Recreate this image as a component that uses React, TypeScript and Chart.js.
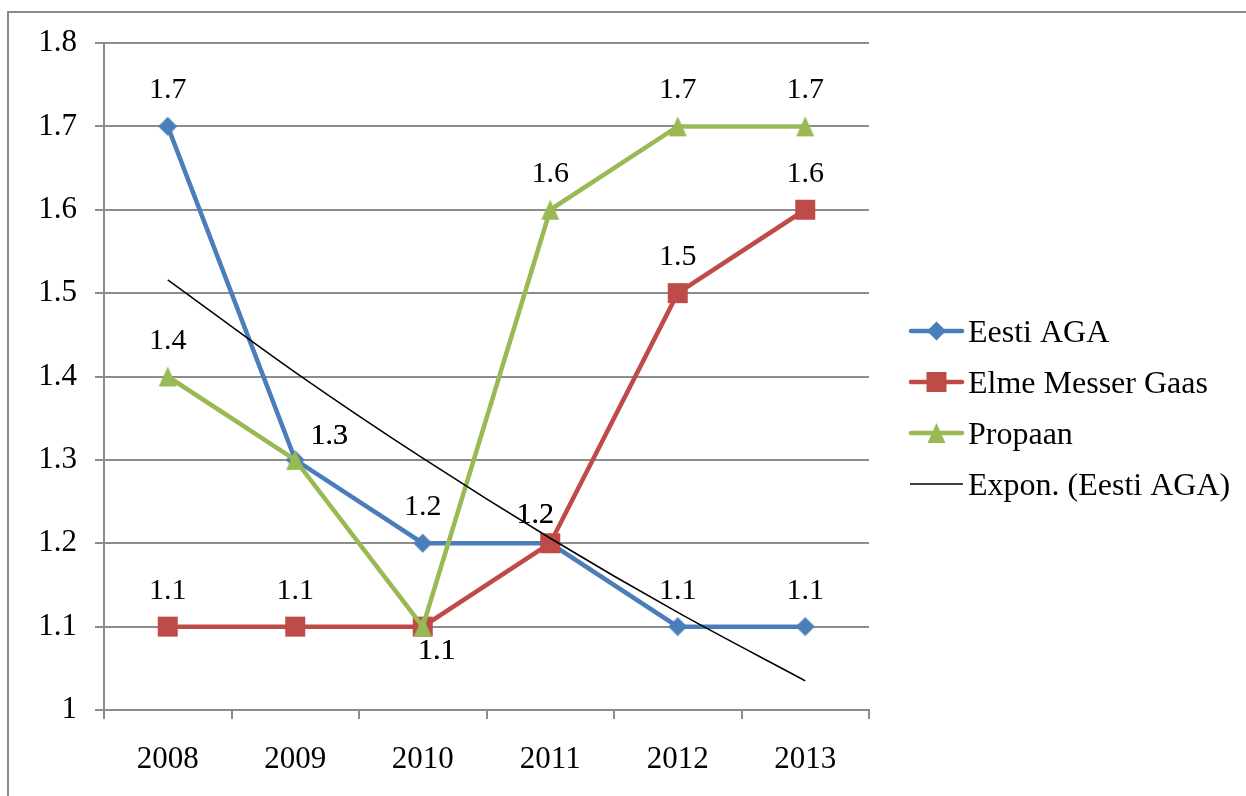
import React, { useEffect, useRef } from 'react';
import { Chart, registerables } from 'chart.js';

Chart.register(...registerables);

const categories = ['2008', '2009', '2010', '2011', '2012', '2013'];
const eestiAga = [1.7, 1.3, 1.2, 1.2, 1.1, 1.1];
const elmeMesserGaas = [1.1, 1.1, 1.1, 1.2, 1.5, 1.6];
const propaan = [1.4, 1.3, 1.1, 1.6, 1.7, 1.7];
const exponEestiAga = [1.516, 1.405, 1.302, 1.206, 1.117, 1.035];
const yTickValues = [1, 1.1, 1.2, 1.3, 1.4, 1.5, 1.6, 1.7, 1.8];
const yTickLabels = ['1', '1.1', '1.2', '1.3', '1.4', '1.5', '1.6', '1.7', '1.8'];
const seriesNames = ['Eesti AGA', 'Elme Messer Gaas', 'Propaan', 'Expon. (Eesti AGA)'];

const BLUE = '#4A7EBB';
const RED = '#BE4B48';
const GREEN = '#98B954';
const GRID = '#8c8c8c';
const FONT_FAMILY = '"Liberation Serif", "Times New Roman", serif';
const TICK_SIZE = 31;
const LABEL_SIZE = 30;
const LEGEND_SIZE = 32;

// label placement relative to the point (dx, baseline dy)
function labelPlacement(ds: number, i: number): [number, number] {
  if ((ds === 0 || ds === 2) && i === 1) return [34, -16];
  if ((ds === 0 || ds === 1) && i === 3) return [-15, -20];
  if ((ds === 1 || ds === 2) && i === 2) return [14, 32];
  return [0, -28];
}

function fmt(v: number) {
  return String(Number(v.toFixed(1)));
}

function markerPath(ctx: CanvasRenderingContext2D, kind: string, x: number, y: number) {
  ctx.beginPath();
  if (kind === 'diamond') {
    ctx.moveTo(x, y - 9.5);
    ctx.lineTo(x + 9.5, y);
    ctx.lineTo(x, y + 9.5);
    ctx.lineTo(x - 9.5, y);
    ctx.closePath();
  } else if (kind === 'square') {
    ctx.rect(x - 10, y - 10, 20, 20);
  } else if (kind === 'triangle') {
    ctx.moveTo(x, y - 10);
    ctx.lineTo(x + 9, y + 10);
    ctx.lineTo(x - 9, y + 10);
    ctx.closePath();
  }
}

function makeMarker(kind: string, color: string) {
  const c = document.createElement('canvas');
  c.width = 22;
  c.height = 22;
  const ctx = c.getContext('2d')!;
  ctx.fillStyle = color;
  markerPath(ctx, kind, 11, 11);
  ctx.fill();
  return c;
}

const dataLabelPlugin = {
  id: 'dataLabels',
  afterDatasetsDraw(chart: any) {
    const ctx = chart.ctx;
    ctx.save();
    ctx.font = `${LABEL_SIZE}px ${FONT_FAMILY}`;
    ctx.fillStyle = '#000';
    ctx.textAlign = 'center';
    ctx.textBaseline = 'alphabetic';
    for (let d = 0; d < 3; d++) {
      const meta = chart.getDatasetMeta(d);
      const values = chart.data.datasets[d].data as number[];
      meta.data.forEach((pt: any, i: number) => {
        const [dx, dy] = labelPlacement(d, i);
        ctx.fillText(fmt(values[i]), pt.x + dx, pt.y + dy);
      });
    }
    ctx.restore();
  },
};

const legendPlugin = {
  id: 'customLegend',
  afterDraw(chart: any) {
    const ctx = chart.ctx;
    const colors = [BLUE, RED, GREEN, '#000'];
    const kinds = ['diamond', 'square', 'triangle', ''];
    const x0 = 909;
    const x1 = 964;
    const top = 331;
    const step = 51;
    ctx.save();
    seriesNames.forEach((name, i) => {
      const y = top + i * step;
      ctx.strokeStyle = colors[i];
      const isTrend = i === 3;
      ctx.lineWidth = isTrend ? 1.5 : 4.5;
      ctx.lineCap = isTrend ? 'butt' : 'round';
      ctx.beginPath();
      ctx.moveTo(x0 + (isTrend ? 1 : 2), y);
      ctx.lineTo(x1 - (isTrend ? 1 : 2), y);
      ctx.stroke();
      if (kinds[i]) {
        ctx.fillStyle = colors[i];
        markerPath(ctx, kinds[i], (x0 + x1) / 2, y);
        ctx.fill();
      }
      ctx.fillStyle = '#000';
      ctx.font = `${LEGEND_SIZE}px ${FONT_FAMILY}`;
      ctx.textAlign = 'left';
      ctx.textBaseline = 'alphabetic';
      ctx.fillText(name, 968, y + 11);
    });
    ctx.restore();
  },
};

export default function App() {
  const canvasRef = useRef<HTMLCanvasElement | null>(null);

  useEffect(() => {
    if (!canvasRef.current) return;
    const tickFont = { family: FONT_FAMILY, size: TICK_SIZE };
    const chart = new Chart(canvasRef.current, {
      type: 'line',
      data: {
        labels: categories,
        datasets: [
          {
            label: seriesNames[0],
            data: eestiAga,
            borderColor: BLUE,
            backgroundColor: BLUE,
            borderWidth: 4.5,
            pointStyle: makeMarker('diamond', BLUE),
            pointRadius: 10,
            tension: 0,
            order: 4,
          },
          {
            label: seriesNames[1],
            data: elmeMesserGaas,
            borderColor: RED,
            backgroundColor: RED,
            borderWidth: 4.5,
            pointStyle: makeMarker('square', RED),
            pointRadius: 10,
            tension: 0,
            order: 3,
          },
          {
            label: seriesNames[2],
            data: propaan,
            borderColor: GREEN,
            backgroundColor: GREEN,
            borderWidth: 4.5,
            pointStyle: makeMarker('triangle', GREEN),
            pointRadius: 10,
            tension: 0,
            order: 2,
          },
          {
            label: seriesNames[3],
            data: exponEestiAga,
            borderColor: '#000',
            backgroundColor: '#000',
            borderWidth: 1.5,
            pointRadius: 0,
            cubicInterpolationMode: 'monotone',
            order: 1,
          },
        ],
      },
      options: {
        responsive: false,
        animation: false,
        devicePixelRatio: 1,
        layout: { padding: { top: 43, right: 377, left: 0, bottom: 0 } },
        plugins: {
          legend: { display: false },
          tooltip: { enabled: false },
        },
        scales: {
          x: {
            offset: true,
            grid: {
              offset: true,
              drawOnChartArea: false,
              drawTicks: true,
              tickLength: 9,
              color: GRID,
              lineWidth: 2,
            },
            border: { display: true, color: GRID, width: 2 },
            ticks: { font: tickFont, color: '#000', padding: 22, maxRotation: 0 },
            afterFit: (s: any) => {
              s.height = 86;
            },
          },
          y: {
            min: 1,
            max: 1.8,
            afterBuildTicks: (s: any) => {
              s.ticks = yTickValues.map((v) => ({ value: v }));
            },
            ticks: {
              font: tickFont,
              color: '#000',
              padding: 18,
              callback: (v: any) => {
                const idx = yTickValues.findIndex((t) => Math.abs(t - Number(v)) < 1e-6);
                return idx >= 0 ? yTickLabels[idx] : '';
              },
            },
            grid: { color: GRID, lineWidth: 2, tickLength: 9, drawTicks: true },
            border: { display: true, color: GRID, width: 2 },
            afterFit: (s: any) => {
              s.width = 104;
            },
          },
        },
      },
      plugins: [dataLabelPlugin, legendPlugin],
    } as any);
    return () => chart.destroy();
  }, []);

  return (
    <div
      style={{
        position: 'fixed',
        left: 0,
        top: 0,
        width: 1246,
        height: 796,
        overflow: 'hidden',
        background: '#fff',
      }}
    >
      <div
        style={{
          position: 'absolute',
          left: 7,
          top: 11,
          width: 2000,
          height: 2000,
          borderLeft: '2px solid #8c8c8c',
          borderTop: '2px solid #8c8c8c',
        }}
      />
      <canvas
        ref={canvasRef}
        width={1246}
        height={796}
        style={{ position: 'absolute', left: 0, top: 0, width: 1246, height: 796 }}
      />
    </div>
  );
}
